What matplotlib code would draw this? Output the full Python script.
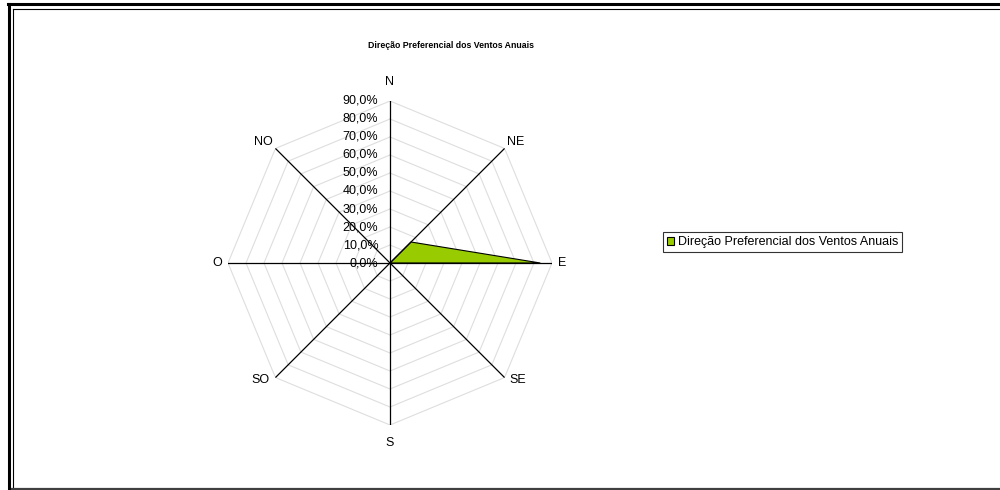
import numpy as np
import matplotlib
matplotlib.use('Agg')
import matplotlib.pyplot as plt
from matplotlib.lines import Line2D

plt.rcParams['font.family'] = ['Liberation Sans', 'DejaVu Sans']

# data
directions = ['N', 'NE', 'E', 'SE', 'S', 'SO', 'O', 'NO']
values = [0.0, 0.165, 0.835, 0.0, 0.0, 0.0, 0.0, 0.0]
levels = [0.0, 0.1, 0.2, 0.3, 0.4, 0.5, 0.6, 0.7, 0.8, 0.9]
series_name = 'Direção Preferencial dos Ventos Anuais'
title = 'Direção Preferencial dos Ventos Anuais'

fig = plt.figure(figsize=(10, 4.9), dpi=100)
fig.patch.set_facecolor('white')

# outer frame (figure coords)
W, H = 1000.0, 490.0
fig.add_artist(Line2D([8.5/W, 8.5/W], [0, 1 - 4.5/H], color='black', lw=2.2))
fig.add_artist(Line2D([7.5/W, 1], [1 - 4.5/H, 1 - 4.5/H], color='black', lw=2.2))
fig.add_artist(Line2D([12.5/W, 12.5/W], [1.5/H, 1 - 9.5/H], color='black', lw=0.8))
fig.add_artist(Line2D([12.5/W, 1], [1 - 9.5/H, 1 - 9.5/H], color='black', lw=0.8))
fig.add_artist(Line2D([12/W, 1], [1/H, 1/H], color='#404040', lw=1.6))

# radar axes: centre (390, 263), radius 162 px for 90%
R = 162
cx, cy = 390, 263
ax = fig.add_axes([(cx - R)/W, (H - cy - R)/H, 2*R/W, 2*R/H], projection='polar')
ax.set_theta_zero_location('N')
ax.set_theta_direction(-1)
ax.set_ylim(0, levels[-1])
ax.set_xticks([])
ax.set_yticks([])
ax.grid(False)
ax.spines['polar'].set_visible(False)
ax.patch.set_visible(False)

theta = np.deg2rad(np.arange(len(directions)) * 360.0 / len(directions))
theta_c = np.append(theta, theta[0])

# octagon gridlines
for lv in levels[1:]:
    ax.plot(theta_c, [lv] * len(theta_c), color='#DEDEDE', lw=0.8, zorder=1)

# data polygon
vals_c = np.append(values, values[0])
ax.fill(theta_c, vals_c, facecolor='#99CC00', edgecolor='black', lw=0.8, zorder=3)

# spokes
for t in theta:
    ax.plot([t, t], [0, levels[-1]], color='black', lw=0.9, zorder=4)

# radial tick labels
for lv in levels:
    ax.annotate(f'{lv*100:.1f}%'.replace('.', ','), xy=(0, lv), xytext=(-8.5, 0),
                textcoords='offset points', ha='right', va='center', fontsize=9,
                annotation_clip=False)

# direction labels
offs = {'N': (0, 9, 'center', 'bottom'), 'NE': (2, 0, 'left', 'bottom'),
        'E': (4.5, 0, 'left', 'center'), 'SE': (3.5, -2, 'left', 'center'),
        'S': (0, -8.5, 'center', 'top'), 'SO': (-4.5, -2, 'right', 'center'),
        'O': (-4.5, 0, 'right', 'center'), 'NO': (-2, 0, 'right', 'bottom')}
for t, d in zip(theta, directions):
    dx, dy, ha, va = offs[d]
    ax.annotate(d, xy=(t, levels[-1]), xytext=(dx, dy), textcoords='offset points',
                ha=ha, va=va, fontsize=9, annotation_clip=False)

# title
fig.text(451/W, 1 - 45/H, title, ha='center', va='center', fontsize=6.3,
         fontweight='bold')

# legend
handle = plt.Rectangle((0, 0), 1, 1, facecolor='#99CC00', edgecolor='black', lw=0.8)
leg = fig.legend([handle], [series_name], loc='center left',
                 bbox_to_anchor=(663/W, 1 - 242/H), fontsize=9, frameon=True,
                 fancybox=False, handlelength=0.6, handleheight=0.6,
                 handletextpad=0.3, borderpad=0.3, borderaxespad=0)
leg.get_frame().set_edgecolor('black')
leg.get_frame().set_linewidth(0.8)

fig.savefig('out.png', dpi=100)
